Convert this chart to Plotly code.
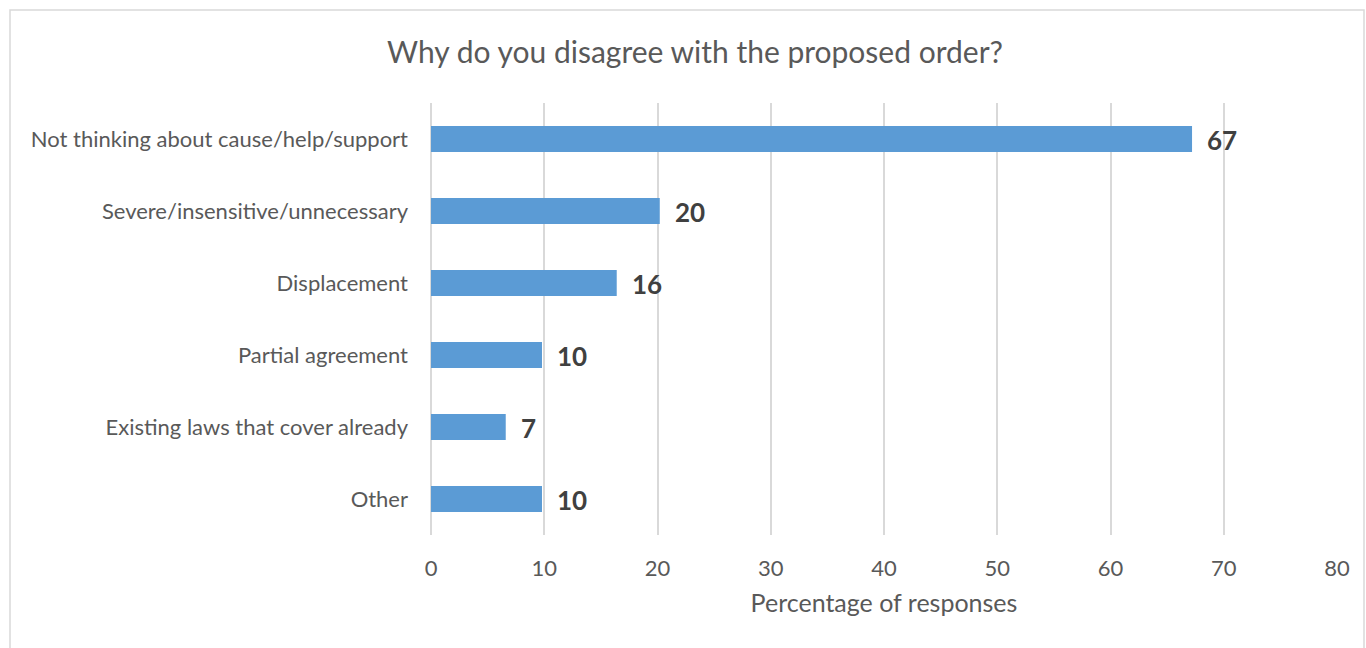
import plotly.graph_objects as go

categories = [
    "Not thinking about cause/help/support",
    "Severe/insensitive/unnecessary",
    "Displacement",
    "Partial agreement",
    "Existing laws that cover already",
    "Other",
]
values = [67.2, 20.2, 16.4, 9.8, 6.6, 9.8]
x_ticks = [0, 10, 20, 30, 40, 50, 60, 70, 80]

FONT = "Lato, Open Sans, sans-serif"

fig = go.Figure()
fig.add_trace(go.Bar(
    y=categories,
    x=values,
    orientation="h",
    marker=dict(color="#5B9BD5", line=dict(width=0)),
    width=0.36,
    hoverinfo="x+y",
))

annotations = []
for c, v in zip(categories, values):
    annotations.append(dict(
        x=v, y=c, xref="x", yref="y",
        text=f"<b>{v:.0f}</b>", showarrow=False,
        xanchor="left", yanchor="middle", xshift=13, yshift=-1,
        font=dict(family=FONT, size=26, color="#404040"),
    ))

fig.update_layout(
    width=1366, height=648,
    margin=dict(l=431, r=29, t=103, b=113),
    paper_bgcolor="white", plot_bgcolor="white",
    showlegend=False,
    title=dict(
        text="Why do you disagree with the proposed order?",
        x=695 / 1366, xanchor="center",
        y=1 - 52 / 648, yanchor="middle",
        font=dict(family=FONT, size=30, color="#595959"),
    ),
    xaxis=dict(
        range=[0, 80],
        tickvals=x_ticks,
        showgrid=True, gridcolor="#D9D9D9", gridwidth=1.5,
        zeroline=True, zerolinecolor="#D9D9D9", zerolinewidth=1.5,
        showline=False,
        ticks="",
        tickfont=dict(family=FONT, size=22, color="#595959"),
        ticklabelstandoff=18,
        title=dict(text="Percentage of responses",
                   font=dict(family=FONT, size=25, color="#595959"),
                   standoff=14),
        fixedrange=True,
    ),
    yaxis=dict(
        categoryorder="array",
        categoryarray=list(reversed(categories)),
        showgrid=False, showline=False, zeroline=False,
        ticks="",
        tickfont=dict(family=FONT, size=22, color="#595959"),
        ticklabelstandoff=22,
        fixedrange=True,
    ),
    annotations=annotations,
    shapes=[dict(
        type="rect", xref="paper", yref="paper",
        x0=(10 - 431) / 906, x1=(1364 - 431) / 906,
        y0=(535 - 660) / 432, y1=(535 - 10) / 432,
        line=dict(color="#D9D9D9", width=1.5),
        fillcolor="rgba(0,0,0,0)", layer="below",
    )],
)

fig.write_html("out.html")
